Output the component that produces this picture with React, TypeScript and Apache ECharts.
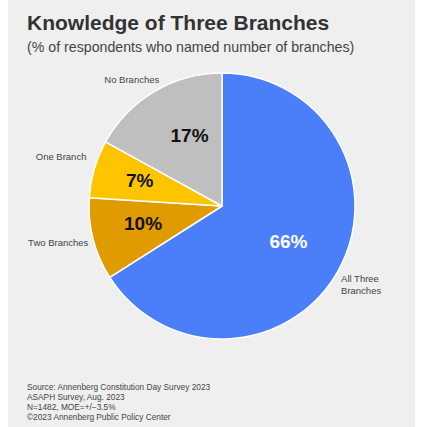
import React, { useEffect, useRef } from "react";
import * as echarts from "echarts";

const categories = ["All Three Branches", "Two Branches", "One Branch", "No Branches"];
const values = [66, 10, 7, 17];
const sliceColors = ["#4b7ef9", "#e09b00", "#fec400", "#bfbfbf"];
const titleText = "Knowledge of Three Branches";
const subtitleText = "(% of respondents who named number of branches)";
const sourceLines = [
  "Source: Annenberg Constitution Day Survey 2023",
  "ASAPH Survey, Aug. 2023",
  "N=1482, MOE=+/\u22123.5%",
  "\u00a92023 Annenberg Public Policy Center",
];

const FONT = "'Liberation Sans', Arial, sans-serif";

export default function App() {
  const ref = useRef<HTMLDivElement>(null);
  useEffect(() => {
    if (!ref.current) return;
    const chart = echarts.init(ref.current, undefined, { renderer: "svg" });
    const outerOffsets = [
      [-6, 12],
      [4, 2],
      [1, -11],
      [12, -9],
    ];
    const innerOffsets = [
      [-5, -4],
      [0, -3],
      [-4, -3],
      [9, 0],
    ];
    chart.setOption({
      animation: false,
      backgroundColor: "#efefef",
      graphic: [
        {
          type: "text",
          left: 19,
          top: 12,
          style: { text: titleText, font: `bold 21px ${FONT}`, fill: "#333333" },
        },
        {
          type: "text",
          left: 19,
          top: 40,
          style: { text: subtitleText, font: `14.2px ${FONT}`, fill: "#444444" },
        },
        {
          type: "text",
          left: 19,
          top: 382,
          style: {
            text: sourceLines.join("\n"),
            font: `8.3px ${FONT}`,
            lineHeight: 10,
            fill: "#444444",
          },
        },
      ],
      series: [
        {
          type: "pie",
          radius: [0, 133],
          center: [214, 206],
          startAngle: 90,
          clockwise: true,
          avoidLabelOverlap: false,
          itemStyle: { borderColor: "#ffffff", borderWidth: 1.5 },
          label: {
            show: true,
            position: "outside",
            fontFamily: FONT,
            fontSize: 9.5,
            lineHeight: 12,
            color: "#444444",
            formatter: (p: any) => (p.name === "All Three Branches" ? "All Three\nBranches" : p.name),
          },
          labelLine: { show: false, length: 4, length2: 0 },
          labelLayout: (p: any) => ({ dx: outerOffsets[p.dataIndex][0], dy: outerOffsets[p.dataIndex][1] }),
          emphasis: { disabled: true },
          data: values.map((v, i) => ({
            value: v,
            name: categories[i],
            itemStyle: { color: sliceColors[i] },
          })),
        },
        {
          type: "pie",
          radius: [24, 133],
          center: [214, 206],
          startAngle: 90,
          clockwise: true,
          silent: true,
          z: 5,
          itemStyle: { color: "rgba(0,0,0,0)", borderWidth: 0 },
          label: {
            show: true,
            position: "inside",
            fontFamily: FONT,
            fontSize: 19,
            fontWeight: "bold",
            formatter: "{c}%",
          },
          labelLine: { show: false },
          labelLayout: (p: any) => ({ dx: innerOffsets[p.dataIndex][0], dy: innerOffsets[p.dataIndex][1] }),
          emphasis: { disabled: true },
          data: values.map((v, i) => ({
            value: v,
            name: categories[i],
            label: { color: i === 0 ? "#ffffff" : "#111111" },
          })),
        },
      ],
    });
    return () => chart.dispose();
  }, []);
  return (
    <div
      ref={ref}
      style={{ position: "absolute", left: 8, top: 0, width: 407, height: 427 }}
    />
  );
}
